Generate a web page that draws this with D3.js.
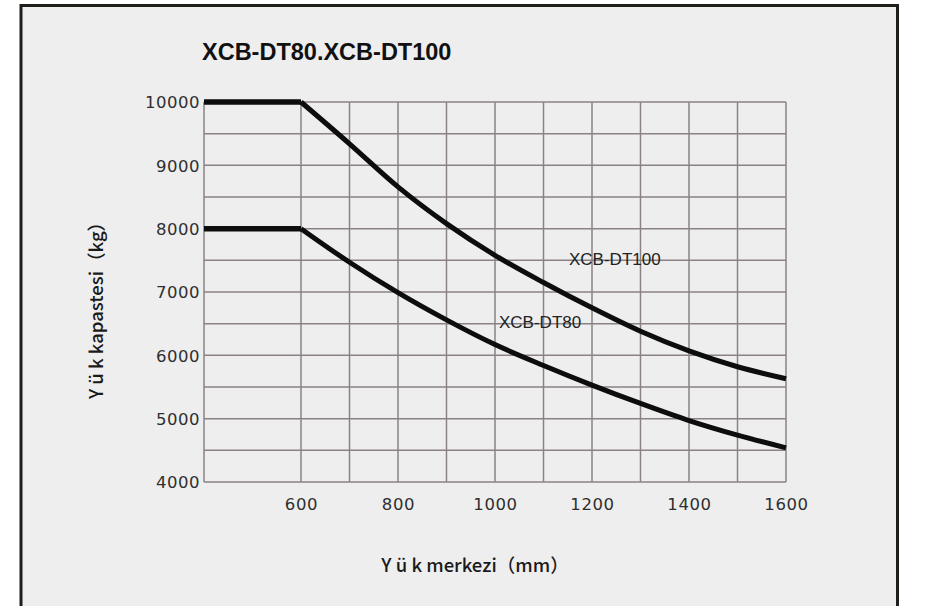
<!DOCTYPE html>
<html>
<head>
<meta charset="utf-8">
<script src="https://cdn.jsdelivr.net/npm/d3@7"></script>
<style>
  html, body { margin: 0; padding: 0; background: #ffffff; }
  svg { display: block; }
</style>
</head>
<body>
<svg id="chart" width="925" height="606"></svg>
<script>
// ---- data ----
const title = "XCB-DT80.XCB-DT100";
const xLabel = "Y ü k merkezi（mm）";
const yLabel = "Y ü k kapastesi（kg）";
const loadCenters = [400, 600, 700, 800, 900, 1000, 1100, 1200, 1300, 1400, 1500, 1600];
const dt100 = [10000, 10000, 9340, 8660, 8080, 7580, 7150, 6750, 6380, 6070, 5820, 5630];
const dt80  = [8000, 8000, 7470, 6990, 6560, 6170, 5840, 5530, 5240, 4970, 4740, 4540];
const seriesNames = ["XCB-DT100", "XCB-DT80"];
const xTickValues = [600, 800, 1000, 1200, 1400, 1600];
const yTickValues = [4000, 5000, 6000, 7000, 8000, 9000, 10000];
const xGridValues = [400, 600, 700, 800, 900, 1000, 1100, 1200, 1300, 1400, 1500, 1600];
const yGridValues = [4000, 4500, 5000, 5500, 6000, 6500, 7000, 7500, 8000, 8500, 9000, 9500, 10000];

// ---- layout ----
const svg = d3.select("#chart");
svg.append("rect").attr("x", 21).attr("y", 5.5).attr("width", 876.5).attr("height", 620)
  .attr("fill", "#eeeeee").attr("stroke", "#1e1e1a").attr("stroke-width", 3);

const x = d3.scaleLinear().domain([400, 1600]).range([204, 786]);
const y = d3.scaleLinear().domain([4000, 10000]).range([482, 102]);

const gridColor = "#8a8283";
const g = svg.append("g");

g.selectAll("line.h").data(yGridValues).join("line")
  .attr("x1", x(400)).attr("x2", x(1600))
  .attr("y1", d => y(d)).attr("y2", d => y(d))
  .attr("stroke", gridColor).attr("stroke-width", 1.5);
g.selectAll("line.v").data(xGridValues).join("line")
  .attr("x1", d => x(d)).attr("x2", d => x(d))
  .attr("y1", y(4000)).attr("y2", y(10000))
  .attr("stroke", gridColor).attr("stroke-width", 1.5);

// ---- curves ----
function drawSeries(vals) {
  const pts = loadCenters.map((c, i) => [c, vals[i]]);
  const flat = pts.filter(p => p[0] <= 600);
  const desc = pts.filter(p => p[0] >= 600);
  const lin = d3.line().x(p => x(p[0])).y(p => y(p[1]));
  const cur = d3.line().x(p => x(p[0])).y(p => y(p[1])).curve(d3.curveCatmullRom.alpha(0.5));
  g.append("path").attr("d", lin(flat)).attr("fill", "none")
    .attr("stroke", "#0d0d0d").attr("stroke-width", 5.5);
  g.append("path").attr("d", cur(desc)).attr("fill", "none")
    .attr("stroke", "#0d0d0d").attr("stroke-width", 5).attr("stroke-linejoin", "round");
}
drawSeries(dt100);
drawSeries(dt80);

// ---- axes (labels only) ----
const yAxis = d3.axisLeft(y).tickValues(yTickValues).tickSize(0).tickPadding(4).tickFormat(d3.format("d"));
const ya = svg.append("g").attr("transform", `translate(${x(400)},0)`).call(yAxis);
ya.select(".domain").remove();
ya.selectAll("text").attr("font-family", "DejaVu Sans").attr("font-size", 16.5)
  .attr("fill", "#2e2e2e").attr("dy", "0.36em").attr("letter-spacing", 0.5);

const xAxis = d3.axisBottom(x).tickValues(xTickValues).tickSize(0).tickPadding(0).tickFormat(d3.format("d"));
const xa = svg.append("g").attr("transform", `translate(0,${y(4000)})`).call(xAxis);
xa.select(".domain").remove();
xa.selectAll("text").attr("font-family", "DejaVu Sans").attr("font-size", 16.5)
  .attr("fill", "#2e2e2e").attr("y", 28).attr("dy", 0).attr("letter-spacing", 0.6);

// ---- texts ----
svg.append("text").attr("x", 202).attr("y", 60).text(title)
  .attr("font-family", "Liberation Sans, Arial, sans-serif").attr("font-weight", "bold")
  .attr("font-size", 23.5).attr("fill", "#111");

svg.append("text").attr("x", 475).attr("y", 572).attr("text-anchor", "middle").text(xLabel)
  .attr("font-family", "Noto Sans CJK SC").attr("font-weight", 500).attr("font-size", 18.5).attr("fill", "#1a1a1a");

svg.append("text").attr("transform", "translate(103,306) rotate(-90)").attr("text-anchor", "middle")
  .text(yLabel).attr("font-family", "Noto Sans CJK SC").attr("font-weight", 500).attr("font-size", 18.5).attr("fill", "#1a1a1a");

svg.append("text").attr("x", 569).attr("y", 265).text(seriesNames[0])
  .attr("font-family", "Liberation Sans, Arial, sans-serif").attr("font-size", 17).attr("fill", "#222");
svg.append("text").attr("x", 499).attr("y", 328).text(seriesNames[1])
  .attr("font-family", "Liberation Sans, Arial, sans-serif").attr("font-size", 17).attr("fill", "#222");
</script>
</body>
</html>
